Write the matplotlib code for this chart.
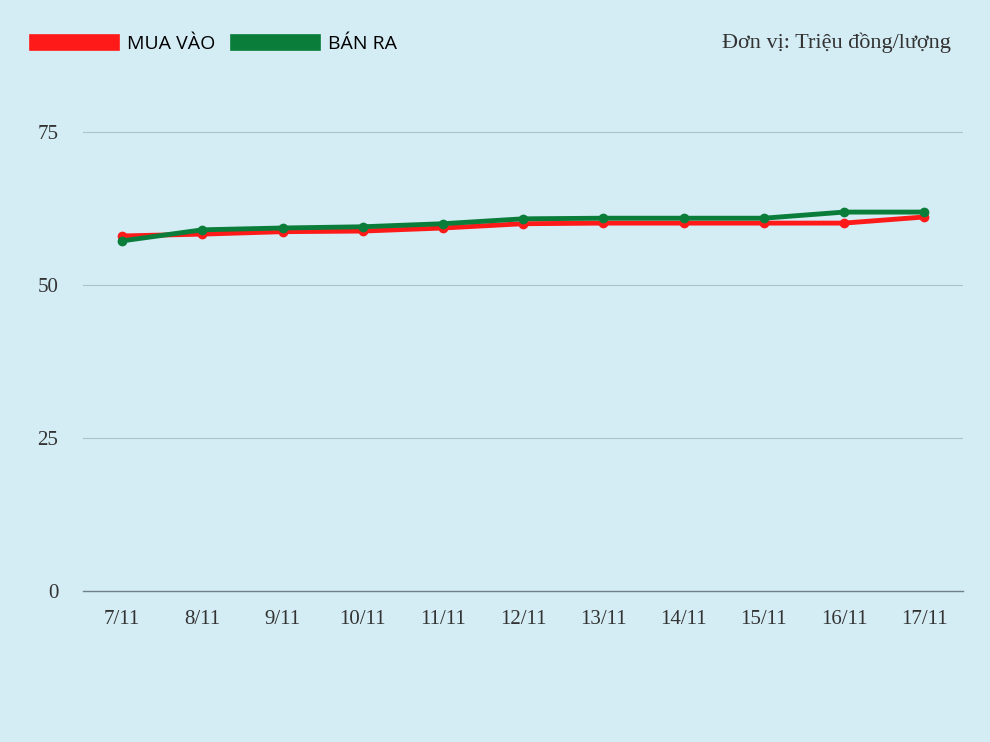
import matplotlib
matplotlib.use("Agg")
import matplotlib.pyplot as plt

dates = ["7/11","8/11","9/11","10/11","11/11","12/11","13/11","14/11","15/11","16/11","17/11"]
mua_vao = [58.0,58.3,58.7,58.8,59.3,60.0,60.1,60.1,60.1,60.1,61.1]
ban_ra = [57.2,59.0,59.3,59.5,60.0,60.8,60.9,60.9,60.9,61.9,61.9]
yticks = [0,25,50,75]

bg = "#d4ecf4"
fig = plt.figure(figsize=(9.9,7.42), dpi=100, facecolor=bg)
ax = fig.add_axes([0.084,0.2035,0.889,0.66], facecolor=bg)
x = range(len(dates))
ax.plot(x, mua_vao, color="#ff1a1a", lw=3.5, marker="o", ms=6, label="MUA VÀO", zorder=3)
ax.plot(x, ban_ra, color="#0a7d3a", lw=3.5, marker="o", ms=6, label="BÁN RA", zorder=4)
ax.set_xlim(-0.486,10.486)
ax.set_ylim(0,80)
ax.set_yticks(yticks)
ax.set_xticks(list(x))
ax.set_xticklabels(dates)
for s in ax.spines.values():
    s.set_visible(False)
for v in yticks[1:]:
    ax.axhline(v,color="#a9c4cc",lw=0.8,zorder=1)
ax.axhline(0,color="#6f8088",lw=1,zorder=2, clip_on=False)
ax.tick_params(length=0, labelsize=15, colors="#333333", pad=14)
for t in ax.get_xticklabels()+ax.get_yticklabels():
    t.set_family("Liberation Serif")
ax.tick_params(axis="y", pad=18)
fig.legend(loc="upper left", bbox_to_anchor=(0.02,0.978), ncol=2, frameon=False,
           handlelength=3.8, handleheight=1.0, prop={"family":"Open Sans","size":14},
           columnspacing=1.2)
for h in fig.legends[0].get_lines():
    h.set_linewidth(12); h.set_marker("")
fig.text(0.96,0.943,"Đơn vị: Triệu đồng/lượng", ha="right", va="center",
         fontsize=16, family="Liberation Serif", color="#333333")
fig.savefig("out.png", dpi=100, facecolor=bg)
